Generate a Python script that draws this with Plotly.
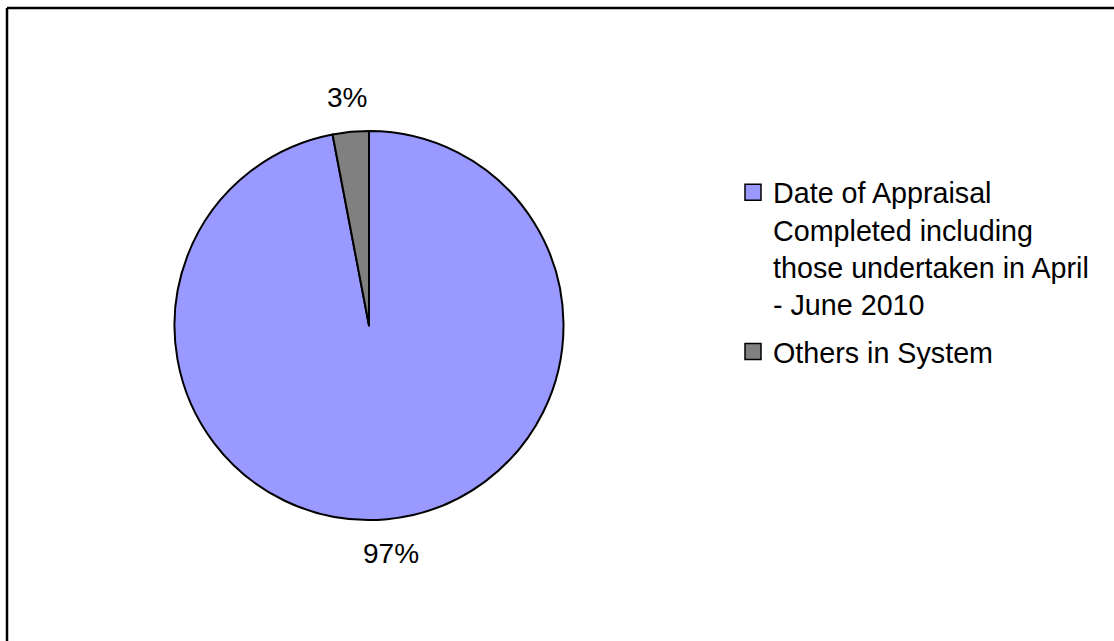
import math
import plotly.graph_objects as go

# Appraisal status split
categories = [
    "Date of Appraisal<br>Completed including<br>those undertaken in April<br>- June 2010",
    "Others in System",
]
shares = [97, 3]
slice_colors = ["#9999FF", "#808080"]

W, H = 1114, 641
FONT = "Liberation Sans, Arial, sans-serif"

# Pie geometry in pixels (centre and radius) and label ring radius
cx, cy, r = 369, 325.5, 194.5
label_r = 229

fig = go.Figure()
fig.add_trace(
    go.Pie(
        labels=categories,
        values=shares,
        sort=False,
        direction="clockwise",
        rotation=0,
        marker=dict(colors=slice_colors, line=dict(color="black", width=2)),
        textinfo="none",
        showlegend=False,
        domain=dict(
            x=[(cx - r) / W, (cx + r) / W],
            y=[1 - (cy + r) / H, 1 - (cy - r) / H],
        ),
        hoverinfo="label+percent",
    )
)

# Percentage labels placed outside each slice at its mid-angle
total = sum(shares)
start = 0.0
for v in shares:
    frac = v / total
    mid = (start + frac / 2) * 2 * math.pi  # clockwise from 12 o'clock
    start += frac
    px = cx + label_r * math.sin(mid)
    py = cy - label_r * math.cos(mid)
    fig.add_annotation(
        x=px / W, y=1 - py / H, xref="paper", yref="paper",
        text=f"{round(frac * 100)}%", showarrow=False,
        xanchor="center", yanchor="middle",
        font=dict(family=FONT, size=28, color="black"),
    )

# Legend entries with square swatches
for i, (name, col) in enumerate(zip(categories, slice_colors)):
    fig.add_trace(
        go.Scatter(
            x=[None], y=[None], mode="markers", name=name,
            legendgroup=f"g{i}",
            marker=dict(symbol="square", size=18, color=col,
                        line=dict(color="black", width=1.5)),
            hoverinfo="skip",
        )
    )

# Outer frame (top and left edges visible inside the page)
frame = dict(color="black", width=2.5)
fig.add_shape(type="line", xref="paper", yref="paper",
              x0=7 / W, x1=1.01, y0=1 - 8 / H, y1=1 - 8 / H, line=frame)
fig.add_shape(type="line", xref="paper", yref="paper",
              x0=7 / W, x1=7 / W, y0=-0.01, y1=1 - 8 / H, line=frame)

LEG_FONT = 28.7
fig.update_layout(
    width=W,
    height=H,
    margin=dict(l=0, r=0, t=0, b=0),
    paper_bgcolor="white",
    plot_bgcolor="white",
    xaxis=dict(visible=False),
    yaxis=dict(visible=False),
    font=dict(family=FONT, size=LEG_FONT, color="black"),
    showlegend=True,
    legend=dict(
        x=(775 - 42) / W,
        xanchor="left",
        y=1 - 167 / H,
        yanchor="top",
        valign="top",
        font=dict(family=FONT, size=LEG_FONT, color="black"),
        tracegroupgap=7,
        bgcolor="rgba(0,0,0,0)",
    ),
)

fig.write_html("out.html")
